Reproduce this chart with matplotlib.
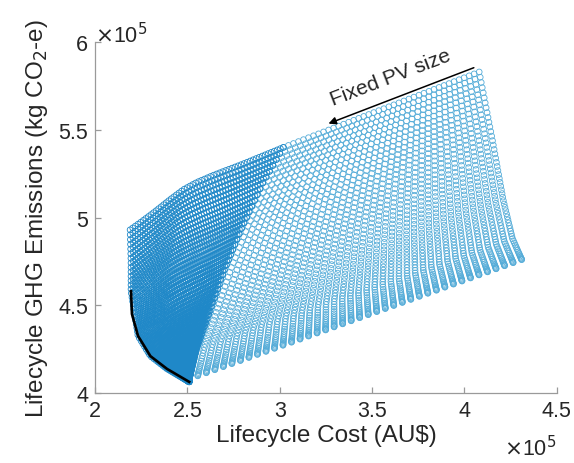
import numpy as np
import matplotlib
matplotlib.use("Agg")
import matplotlib.pyplot as plt

plt.rcParams['font.family'] = ['Liberation Sans', 'DejaVu Sans']

# all values in units of 1e5 (cost in AU$, emissions in kg CO2-e)
# top edge, left (dark) part: fixed PV curves curl down here
top_dark_x = [2.19, 2.25, 2.32, 2.41, 2.48, 2.55, 2.65, 2.80, 3.02]
top_dark_y = [4.93, 4.975, 5.03, 5.105, 5.16, 5.20, 5.245, 5.305, 5.40]
# top edge, right (light) part
top_light_x = [3.02, 4.08]
top_light_y = [5.40, 5.83]
# right edge
right_x = [4.08, 4.15, 4.21, 4.26, 4.31]
right_y = [5.83, 5.45, 5.10, 4.88, 4.76]
# bottom edge
bottom_x = [2.51, 4.31]
bottom_y = [4.08, 4.76]
# border between the dense (dark) and the sparse (light) part
mid_x = [3.02, 2.91, 2.79, 2.70, 2.62, 2.55, 2.51]
mid_y = [5.40, 5.20, 4.93, 4.70, 4.46, 4.25, 4.08]
# left edge incl. pareto front
left_x = [2.19, 2.195, 2.195, 2.233, 2.30, 2.39, 2.51]
left_y = [4.93, 4.75, 4.58, 4.325, 4.21, 4.137, 4.063]
# pareto front (black line)
pareto_x = [2.195, 2.20, 2.233, 2.30, 2.39, 2.51]
pareto_y = [4.58, 4.45, 4.325, 4.21, 4.137, 4.063]

n_rows = 58      # PV sizes
n_cols = 40      # battery sizes in light part
n_dense = 55     # points per row in dark part

xticks = [2, 2.5, 3, 3.5, 4, 4.5]
yticks = [4, 4.5, 5, 5.5, 6]


def curve(px, py, t):
    px = np.asarray(px, float)
    py = np.asarray(py, float)
    s = np.concatenate([[0], np.cumsum(np.hypot(np.diff(px), np.diff(py)))])
    s = s / s[-1] if s[-1] > 0 else np.linspace(0, 1, len(px))
    return np.interp(t, s, px), np.interp(t, s, py)


def coons(T, B, L, R, u, v):
    U, V = np.meshgrid(u, v)
    tx, ty = curve(*T, U)
    bx, by = curve(*B, U)
    lx, ly = curve(*L, V)
    rx, ry = curve(*R, V)
    c = lambda cx, cy, t: curve(cx, cy, np.array([t]))
    t0 = c(*T, 0); t1 = c(*T, 1); b0 = c(*B, 0); b1 = c(*B, 1)
    out = []
    for k in range(2):
        a = [tx, ty][k]; b = [bx, by][k]; l = [lx, ly][k]; r = [rx, ry][k]
        p = (1 - V) * a + V * b + (1 - U) * l + U * r - (
            (1 - U) * (1 - V) * t0[k] + U * (1 - V) * t1[k] + (1 - U) * V * b0[k] + U * V * b1[k])
        out.append(p.ravel())
    return out


t = np.linspace(0, 1, n_rows)
v = 1 - (1 - t) ** 1.6

lx_, ly_ = coons((top_light_x, top_light_y), (bottom_x, bottom_y), (mid_x, mid_y),
                 (right_x, right_y), np.linspace(0, 1, n_cols), v)
dx_, dy_ = coons((top_dark_x, top_dark_y), ([2.51, 2.51], [4.063, 4.08]), (left_x, left_y),
                 (mid_x, mid_y), np.linspace(0, 1, n_dense), v)

fig = plt.figure(figsize=(5.74, 4.64), dpi=100)
ax = fig.add_axes([0.1655, 0.151, 0.8045, 0.756])

ax.scatter(lx_, ly_, s=17, facecolors='none', edgecolors='#55acd8', linewidths=0.6)
ax.scatter(dx_, dy_, s=17, facecolors='none', edgecolors='#1f88c8', linewidths=0.6)
ax.plot(pareto_x, pareto_y, color='k', lw=1.9)

ax.annotate('', xy=(3.25, 5.53), xytext=(4.065, 5.86),
            arrowprops=dict(arrowstyle='-|>', color='k', lw=1.1, mutation_scale=11))
ax.text(3.60, 5.80, 'Fixed PV size', rotation=21, ha='center', va='center',
        fontsize=15, color='#262626')

ax.set_xlim(2, 4.5)
ax.set_ylim(4, 6)
ax.set_xticks(xticks)
ax.set_xticklabels(['2', '2.5', '3', '3.5', '4', '4.5'])
ax.set_yticks(yticks)
ax.set_yticklabels(['4', '4.5', '5', '5.5', '6'])
for sp in ['top', 'right']:
    ax.spines[sp].set_visible(False)
for sp in ['left', 'bottom']:
    ax.spines[sp].set_color('#9a9a9a')
    ax.spines[sp].set_linewidth(0.9)
ax.tick_params(direction='in', length=4, width=0.9, color='#9a9a9a',
               labelsize=15.5, labelcolor='#262626', pad=5)

ax.set_xlabel('Lifecycle Cost (AU$)', fontsize=17.5, color='#262626', labelpad=2)
ax.set_ylabel('Lifecycle GHG Emissions (kg CO$_2$-e)', fontsize=17.5, color='#262626', labelpad=6)

ax.text(0, 0.985, r'$\times$10$^5$', transform=ax.transAxes, ha='left', va='bottom',
        fontsize=15.5, color='#262626')
fig.text(0.970, 0.005, r'$\times$10$^5$', ha='right', va='bottom', fontsize=15.5, color='#262626')

fig.savefig('out.png', dpi=100)
